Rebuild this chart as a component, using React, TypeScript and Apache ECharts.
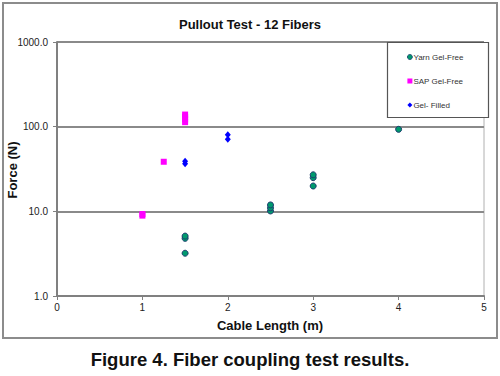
import React, { useEffect, useRef } from "react";
import * as echarts from "echarts";

const FONT = "'Liberation Sans', Arial, sans-serif";

const yarnX = [1.5, 1.5, 1.5, 2.5, 2.5, 2.5, 3, 3, 3, 4];
const yarnY = [3.2, 4.8, 5.1, 10.1, 11, 11.9, 19.9, 25, 27, 93];

const sapX = [1, 1, 1.25, 1.5, 1.5, 1.5, 1.5];
const sapY = [8.9, 9.3, 38.5, 113, 122, 131, 139];

const gelX = [1.5, 1.5, 2, 2];
const gelY = [36.5, 39, 71, 80];

const xTicks = [0, 1, 2, 3, 4, 5];
const yTicks = [1, 10, 100, 1000];

const seriesNames = ["Yarn Gel-Free", "SAP Gel-Free", "Gel- Filled"];

const pairs = (xs: number[], ys: number[]) => xs.map((x, i) => [x, ys[i]]);

export default function App() {
  const ref = useRef<HTMLDivElement>(null);
  useEffect(() => {
    if (!ref.current) return;
    const chart = echarts.init(ref.current, undefined, { renderer: "svg" });
    chart.setOption({
      animation: false,
      backgroundColor: "#ffffff",
      textStyle: { fontFamily: FONT },
      title: {
        text: "Pullout Test - 12 Fibers",
        left: "center",
        top: 13,
        textStyle: { fontFamily: FONT, fontSize: 13, fontWeight: "bold", color: "#111" },
      },
      grid: {
        left: 57,
        right: 16,
        top: 42,
        bottom: 80,
        show: true,
        borderColor: "#b0b0b0",
        borderWidth: 1,
      },
      legend: {
        orient: "vertical",
        left: 402,
        top: 48,
        itemWidth: 5,
        itemHeight: 5,
        itemGap: 16,
        data: [
          { name: seriesNames[0], icon: "circle", itemStyle: { borderWidth: 0.8 } },
          { name: seriesNames[1], icon: "rect" },
          { name: seriesNames[2], icon: "diamond" },
        ],
        textStyle: { fontFamily: FONT, fontSize: 8, color: "#333", padding: [0, 0, 0, -4] },
      },
      xAxis: {
        type: "value",
        min: xTicks[0],
        max: xTicks[xTicks.length - 1],
        interval: 1,
        splitLine: { show: false },
        axisLine: { show: true, onZero: false, lineStyle: { color: "#808080", width: 2 } },
        axisTick: { show: true, length: 4, lineStyle: { color: "#808080", width: 1 } },
        axisLabel: { fontFamily: FONT, fontSize: 10, color: "#222", margin: 6 },
      },
      yAxis: {
        type: "log",
        logBase: 10,
        min: yTicks[0],
        max: yTicks[yTicks.length - 1],
        splitLine: { show: true, lineStyle: { color: "#8a8a8a", width: 2 } },
        axisLine: { show: true, lineStyle: { color: "#808080", width: 2 } },
        axisTick: { show: true, length: 4, lineStyle: { color: "#808080", width: 1 } },
        axisLabel: {
          fontFamily: FONT,
          fontSize: 10,
          color: "#222",
          margin: 9,
          formatter: (v: number) => v.toFixed(1),
        },
      },
      graphic: [
        {
          type: "rect",
          shape: { x: 3, y: 3, width: 494, height: 335 },
          style: { fill: "none", stroke: "#8c8c8c", lineWidth: 2 },
          z: -1,
        },
        {
          type: "rect",
          shape: { x: 387.5, y: 42.5, width: 101, height: 75 },
          style: { fill: "#ffffff", stroke: "#555555", lineWidth: 1.2 },
          z: 1,
        },
        {
          type: "text",
          x: 12.5,
          y: 170,
          rotation: Math.PI / 2,
          style: {
            text: "Force (N)",
            fontFamily: FONT,
            fontSize: 13,
            fontWeight: "bold",
            fill: "#111",
            align: "center",
            verticalAlign: "middle",
          },
        },
        {
          type: "text",
          x: 270,
          y: 325,
          style: {
            text: "Cable Length (m)",
            fontFamily: FONT,
            fontSize: 13,
            fontWeight: "bold",
            fill: "#111",
            align: "center",
            verticalAlign: "middle",
          },
        },
        {
          type: "text",
          x: 250,
          y: 359,
          style: {
            text: "Figure 4. Fiber coupling test results.",
            fontFamily: FONT,
            fontSize: 18.5,
            fontWeight: "bold",
            fill: "#111",
            align: "center",
            verticalAlign: "middle",
          },
        },
      ],
      series: [
        {
          name: seriesNames[0],
          type: "scatter",
          symbol: "circle",
          symbolSize: 6,
          data: pairs(yarnX, yarnY),
          itemStyle: { color: "#009a6e", borderColor: "#1d3c6e", borderWidth: 1, opacity: 1 },
          z: 3,
        },
        {
          name: seriesNames[1],
          type: "scatter",
          symbol: "rect",
          symbolSize: 6,
          data: pairs(sapX, sapY),
          itemStyle: { color: "#ff00ff", opacity: 1 },
          z: 3,
        },
        {
          name: seriesNames[2],
          type: "scatter",
          symbol: "diamond",
          symbolSize: [6, 7],
          data: pairs(gelX, gelY),
          itemStyle: { color: "#0000ff", opacity: 1 },
          z: 3,
        },
      ],
    });
    return () => chart.dispose();
  }, []);
  return (
    <div
      ref={ref}
      style={{ position: "fixed", left: 0, top: 0, width: 500, height: 376 }}
    />
  );
}
